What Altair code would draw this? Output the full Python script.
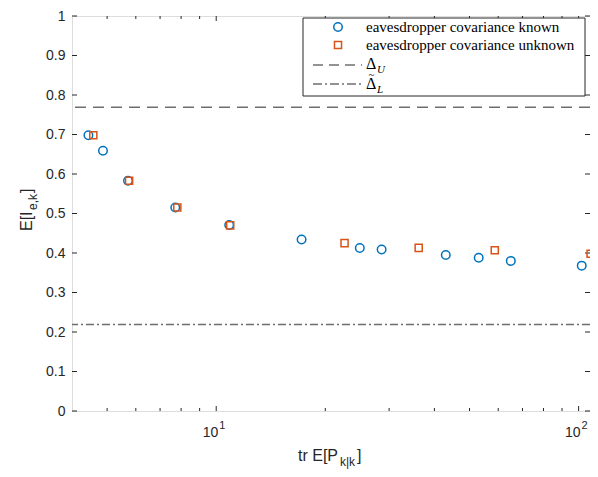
import altair as alt
import pandas as pd

# ---- data ----
known_x = [4.44, 4.87, 5.71, 7.71, 10.86, 17.2, 24.9, 28.6, 43.0, 53.0, 65.0, 102.0]
known_y = [0.698, 0.659, 0.583, 0.515, 0.471, 0.434, 0.4125, 0.409, 0.395, 0.388, 0.380, 0.368]
unknown_x = [4.58, 5.75, 7.81, 10.93, 22.6, 36.2, 58.7, 107.9]
unknown_y = [0.698, 0.583, 0.515, 0.470, 0.425, 0.413, 0.407, 0.398]
delta_U = [0.769]
delta_L = [0.219]

x_major = [10, 100]
x_major_exp = ["1", "2"]
x_minor = [5, 6, 7, 8, 9, 20, 30, 40, 50, 60, 70, 80, 90]
y_ticks = [round(i * 0.1, 1) for i in range(11)]

legend_labels = ["eavesdropper covariance known", "eavesdropper covariance unknown"]

W, H = 518, 395
BLUE = "#0072BD"
ORANGE = "#D95319"
AX = "#262626"
LINE = "#6e6e6e"
SANS = "Liberation Sans"
SERIF = "Liberation Serif"

xscale = alt.Scale(type="log", domain=[4, 107.5], nice=False)
yscale = alt.Scale(domain=[0, 1], nice=False)
yaxis = alt.Axis(values=y_ticks, title=None, grid=False, ticks=False, domain=False,
                 format="~g", labelFont=SANS, labelFontSize=14, labelColor=AX, labelPadding=7)


def X(f="x"):
    return alt.X(f"{f}:Q", scale=xscale, axis=None)


def Y(f="y"):
    return alt.Y(f"{f}:Q", scale=yscale, axis=yaxis)


known = pd.DataFrame({"x": known_x, "y": known_y})
unknown = pd.DataFrame({"x": unknown_x, "y": unknown_y})

lines_u = alt.Chart(pd.DataFrame({"y": delta_U})).mark_rule(
    color=LINE, strokeWidth=1.4, strokeDash=[11, 7]).encode(y=Y())
lines_l = alt.Chart(pd.DataFrame({"y": delta_L})).mark_rule(
    color=LINE, strokeWidth=1.4, strokeDash=[8, 3, 2, 3]).encode(y=Y())

pts_known = alt.Chart(known).mark_point(
    shape="circle", filled=False, size=72, strokeWidth=1.5, color=BLUE, opacity=1).encode(x=X(), y=Y())
pts_unknown = alt.Chart(unknown).mark_point(
    shape="square", filled=False, size=50, strokeWidth=1.5, color=ORANGE, opacity=1).encode(x=X(), y=Y())

# inward ticks (MATLAB style) drawn from tick arrays through the scales
xmaj = pd.DataFrame({"x": x_major, "e": x_major_exp})
xmin = pd.DataFrame({"x": x_minor})
yt = pd.DataFrame({"y": y_ticks})
tick_layers = [
    alt.Chart(xmaj).mark_rule(color=AX, strokeWidth=1).encode(x=X(), y=alt.value(H), y2=alt.value(H - 5)),
    alt.Chart(xmaj).mark_rule(color=AX, strokeWidth=1).encode(x=X(), y=alt.value(0), y2=alt.value(5)),
    alt.Chart(xmin).mark_rule(color=AX, strokeWidth=1).encode(x=X(), y=alt.value(H), y2=alt.value(H - 3)),
    alt.Chart(xmin).mark_rule(color=AX, strokeWidth=1).encode(x=X(), y=alt.value(0), y2=alt.value(3)),
    alt.Chart(yt).mark_rule(color=AX, strokeWidth=1).encode(y=Y(), x=alt.value(0), x2=alt.value(5)),
    alt.Chart(yt).mark_rule(color=AX, strokeWidth=1).encode(y=Y(), x=alt.value(W - 5), x2=alt.value(W)),
    # x tick labels 10^1, 10^2
    alt.Chart(xmaj).mark_text(align="right", baseline="middle", font=SANS, fontSize=14, color=AX, dx=2).encode(
        x=X(), y=alt.value(H + 22), text=alt.value("10")),
    alt.Chart(xmaj).mark_text(align="left", baseline="middle", font=SANS, fontSize=11, color=AX, dx=3).encode(
        x=X(), y=alt.value(H + 15), text="e:N"),
]

one = pd.DataFrame({"a": [0]})

# legend (drawn manually)
legend = [
    alt.Chart(one).mark_rect(fill="white", stroke=AX, strokeWidth=1).encode(
        x=alt.value(231), x2=alt.value(513), y=alt.value(2), y2=alt.value(80)),
    alt.Chart(one).mark_point(shape="circle", filled=False, size=72, strokeWidth=1.5, color=BLUE,
                              opacity=1).encode(x=alt.value(266), y=alt.value(11)),
    alt.Chart(one).mark_point(shape="square", filled=False, size=50, strokeWidth=1.5, color=ORANGE,
                              opacity=1).encode(x=alt.value(266), y=alt.value(29)),
    alt.Chart(one).mark_rule(color=AX, strokeWidth=1, strokeDash=[10, 6]).encode(
        x=alt.value(241), x2=alt.value(290), y=alt.value(49)),
    alt.Chart(one).mark_rule(color=AX, strokeWidth=1, strokeDash=[9, 3, 2, 3]).encode(
        x=alt.value(241), x2=alt.value(290), y=alt.value(68)),
    alt.Chart(one).mark_text(align="left", baseline="middle", font=SERIF, fontSize=15, color="black").encode(
        x=alt.value(294), y=alt.value(11), text=alt.value(legend_labels[0])),
    alt.Chart(one).mark_text(align="left", baseline="middle", font=SERIF, fontSize=15, color="black").encode(
        x=alt.value(294), y=alt.value(29), text=alt.value(legend_labels[1])),
    alt.Chart(one).mark_text(align="left", baseline="middle", font=SERIF, fontSize=16, color="black").encode(
        x=alt.value(294), y=alt.value(48), text=alt.value("Δ")),
    alt.Chart(one).mark_text(align="left", baseline="middle", font=SERIF, fontSize=11, fontStyle="italic",
                             color="black").encode(
        x=alt.value(305), y=alt.value(54), text=alt.value("U")),
    alt.Chart(one).mark_text(align="left", baseline="middle", font=SERIF, fontSize=16, color="black").encode(
        x=alt.value(294), y=alt.value(68), text=alt.value("Δ")),
    alt.Chart(one).mark_text(align="center", baseline="middle", font=SERIF, fontSize=11, color="black").encode(
        x=alt.value(299.5), y=alt.value(58.5), text=alt.value("~")),
    alt.Chart(one).mark_text(align="left", baseline="middle", font=SERIF, fontSize=11, fontStyle="italic",
                             color="black").encode(
        x=alt.value(305), y=alt.value(74), text=alt.value("L")),
]

# axis titles with subscripts
titles = [
    alt.Chart(one).mark_text(align="left", baseline="alphabetic", font=SANS, fontSize=16, color=AX).encode(
        x=alt.value(226), y=alt.value(H + 50), text=alt.value("tr E[P")),
    alt.Chart(one).mark_text(align="left", baseline="alphabetic", font=SANS, fontSize=12, color=AX).encode(
        x=alt.value(268), y=alt.value(H + 55), text=alt.value("k|k")),
    alt.Chart(one).mark_text(align="left", baseline="alphabetic", font=SANS, fontSize=16, color=AX).encode(
        x=alt.value(285), y=alt.value(H + 50), text=alt.value("]")),
    alt.Chart(one).mark_text(align="left", baseline="alphabetic", font=SANS, fontSize=16, angle=270,
                             color=AX).encode(
        x=alt.value(-40), y=alt.value(215), text=alt.value("E[I")),
    alt.Chart(one).mark_text(align="left", baseline="alphabetic", font=SANS, fontSize=12, angle=270,
                             color=AX).encode(
        x=alt.value(-35), y=alt.value(194), text=alt.value("e,k")),
    alt.Chart(one).mark_text(align="left", baseline="alphabetic", font=SANS, fontSize=16, angle=270,
                             color=AX).encode(
        x=alt.value(-40), y=alt.value(177), text=alt.value("]")),
]

chart = alt.layer(
    lines_u, lines_l, *tick_layers, pts_known, pts_unknown, *legend, *titles
).properties(
    width=W, height=H,
    autosize=alt.AutoSizeParams(type="none"),
    padding={"left": 64, "top": 8, "right": 0, "bottom": 58},
).configure_view(stroke=AX, strokeWidth=1).configure(background="white")

chart.save("out.html", embed_options={"renderer": "svg", "actions": False})
